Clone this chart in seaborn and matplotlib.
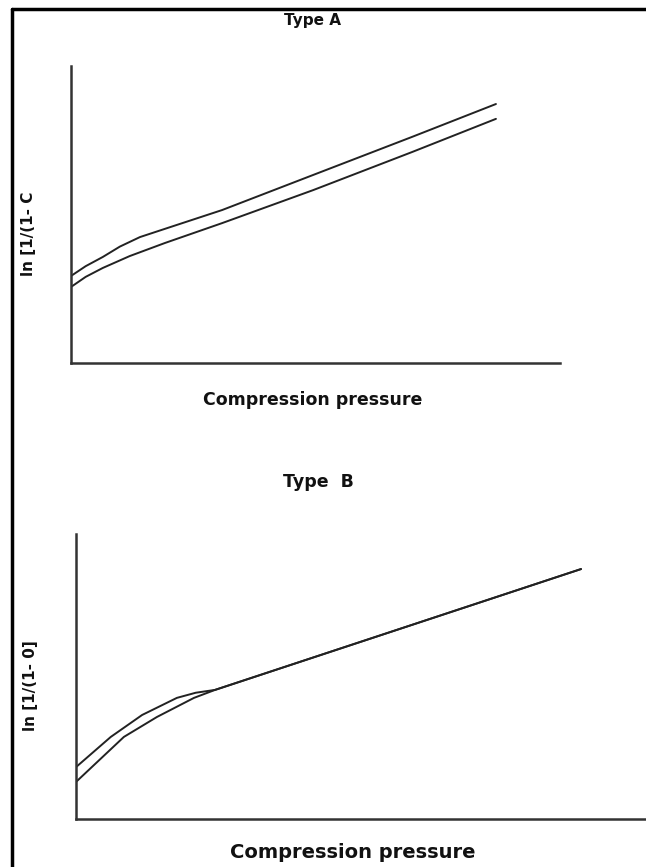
import pandas as pd
import matplotlib
matplotlib.use("Agg")
import matplotlib.pyplot as plt
import seaborn as sns
from matplotlib.lines import Line2D

# Type A: two nearly parallel curves (x = pressure, y = ln[1/(1-D)])
a_upper_x = [0, 3.0, 6.5, 10.0, 14.1, 20.0, 30.9, 49.5, 69.7, 86.9]
a_upper_y = [29.3, 32.6, 35.7, 39.2, 42.4, 45.6, 51.5, 63.3, 76.1, 87.2]
a_lower_x = [0, 3.0, 6.5, 12.0, 19.2, 30.9, 49.5, 69.7, 86.9]
a_lower_y = [25.6, 29.0, 32.0, 36.0, 40.4, 47.1, 58.2, 71.0, 82.2]

# Type B: two curves that merge into one line
b_upper_x = [0, 6.1, 11.6, 17.7, 21.0, 24.4, 88.6]
b_upper_y = [18.2, 28.8, 36.5, 42.5, 44.3, 45.3, 87.7]
b_lower_x = [0, 8.4, 14.2, 20.7, 24.4, 88.6]
b_lower_y = [13.0, 28.8, 35.8, 42.5, 45.3, 87.7]

W, H = 646, 867

sns.set_style("white")
plt.rcParams["font.family"] = ["DejaVu Sans"]

fig = plt.figure(figsize=(W / 100, H / 100), dpi=100)


def px_axes(left, top, right, bottom):
    return fig.add_axes([left / W, 1 - bottom / H, (right - left) / W, (bottom - top) / H])


def draw_panel(ax, curves):
    for xs, ys in curves:
        df = pd.DataFrame({"x": xs, "y": ys})
        sns.lineplot(data=df, x="x", y="y", ax=ax, color="#222222", linewidth=1.4,
                     sort=False, estimator=None)
    ax.set_xlim(0, 100)
    ax.set_ylim(0, 100)
    ax.set_xticks([])
    ax.set_yticks([])
    ax.set_xlabel("")
    ax.set_ylabel("")
    sns.despine(ax=ax)
    for s in ["left", "bottom"]:
        ax.spines[s].set_color("#333333")
        ax.spines[s].set_linewidth(1.8)
    ax.patch.set_alpha(0)


ax1 = px_axes(71, 66, 560, 363)
draw_panel(ax1, [(a_upper_x, a_upper_y), (a_lower_x, a_lower_y)])

ax2 = px_axes(76, 534, 646, 819)
draw_panel(ax2, [(b_upper_x, b_upper_y), (b_lower_x, b_lower_y)])


# texts placed in pixel coordinates
def ftext(x, y, s, size, rot=0):
    fig.text(x / W, 1 - y / H, s, ha="center", va="center", fontsize=size,
             fontweight="bold", rotation=rot, color="#111111")


ftext(313, 21, "Type A", 11)
ftext(313, 400, "Compression pressure", 12.5)
ftext(29, 234, "ln [1/(1- C", 11, rot=90)

ftext(318, 482, "Type  B", 12.5)
ftext(353, 852, "Compression pressure", 14)
ftext(30, 686, "ln [1/(1- 0]", 11, rot=90)

# outer frame (left and top edges)
fig.add_artist(Line2D([12 / W, 12 / W], [0, 1 - 9 / H], color="black", linewidth=2.5,
                      transform=fig.transFigure))
fig.add_artist(Line2D([12 / W, 1], [1 - 9 / H, 1 - 9 / H], color="black", linewidth=2.5,
                      transform=fig.transFigure))

fig.savefig("out.png", dpi=100)
